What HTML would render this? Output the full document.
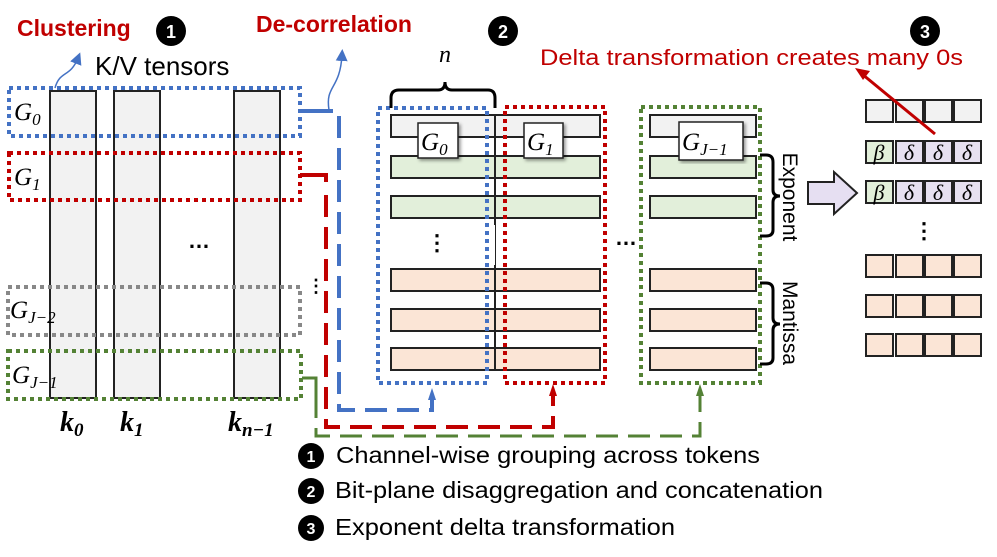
<!DOCTYPE html>
<html><head><meta charset="utf-8"><style>
html,body{margin:0;padding:0;background:#fff;}
svg{display:block;font-family:"Liberation Sans",sans-serif;}
.it{font-family:"Liberation Serif",serif;font-style:italic;}
</style></head><body>
<svg width="997" height="557" viewBox="0 0 997 557" xmlns="http://www.w3.org/2000/svg">
<defs>
<marker id="ab" markerWidth="8" markerHeight="8" refX="4" refY="4" orient="auto"><path d="M0,0 L8,4 L0,8 z" fill="#4472c4"/></marker>
<filter id="sh"><feDropShadow dx="2" dy="2" stdDeviation="1.5" flood-opacity="0.4"/></filter>
</defs>

<text x="17" y="36" font-size="23" font-weight="bold" fill="#c00000">Clustering</text>
<circle cx="171" cy="31" r="15" fill="#000"/><text x="171" y="38" font-size="18" font-weight="bold" fill="#fff" text-anchor="middle">1</text>
<text x="256" y="32" font-size="23" font-weight="bold" fill="#c00000">De-correlation</text>
<circle cx="503" cy="31" r="15" fill="#000"/><text x="503" y="38" font-size="18" font-weight="bold" fill="#fff" text-anchor="middle">2</text>
<circle cx="925" cy="31" r="15" fill="#000"/><text x="925" y="38" font-size="18" font-weight="bold" fill="#fff" text-anchor="middle">3</text>
<text x="95" y="75" font-size="26">K/V tensors</text>
<text x="540" y="65" font-size="22" fill="#c00000" textLength="423" lengthAdjust="spacingAndGlyphs">Delta transformation creates many 0s</text>

<g fill="#f2f2f2" stroke="#222" stroke-width="2">
<rect x="50" y="91" width="46" height="307"/>
<rect x="114" y="91" width="46" height="307"/>
<rect x="234" y="91" width="46" height="307"/>
</g>
<text x="188" y="248" font-size="22" font-weight="bold">…</text>

<g fill="none" stroke-width="4" stroke-dasharray="4 4">
<rect x="9" y="88" width="291" height="48" stroke="#4472c4"/>
<rect x="9" y="153" width="291" height="47" stroke="#c00000"/>
<rect x="8" y="287" width="292" height="48" stroke="#888"/>
<rect x="8" y="351" width="293" height="48" stroke="#548235"/>
</g>
<g class="it" font-size="25">
<text x="14" y="120">G<tspan font-size="17" dy="5">0</tspan></text>
<text x="14" y="185">G<tspan font-size="17" dy="5">1</tspan></text>
<text x="10" y="318">G<tspan font-size="17" dy="5">J−2</tspan></text>
<text x="12" y="383">G<tspan font-size="17" dy="5">J−1</tspan></text>
</g>
<g font-family="Liberation Serif,serif" font-style="italic" font-weight="bold" font-size="28">
<text x="60" y="431">k<tspan font-size="19" dy="5">0</tspan></text>
<text x="120" y="431">k<tspan font-size="19" dy="5">1</tspan></text>
<text x="228" y="431">k<tspan font-size="19" dy="5">n−1</tspan></text>
</g>

<path d="M55,88 C60,70 70,78 78,58" fill="none" stroke="#4472c4" stroke-width="1.5" marker-end="url(#ab)"/>
<path d="M329,110 C325,85 340,90 342,55" fill="none" stroke="#4472c4" stroke-width="1.5" marker-end="url(#ab)"/>

<path d="M300,111 H333" stroke="#4472c4" stroke-width="4" fill="none"/>
<path d="M339,116 V410 H432 V395" stroke="#4472c4" stroke-width="4" fill="none" stroke-dasharray="22 10"/>
<path d="M428,400 L436,400 L432,388 z" fill="#4472c4"/>
<path d="M300,175 H326 V182" stroke="#c00000" stroke-width="4" fill="none"/>
<path d="M326,195 V427 H553 V393" stroke="#c00000" stroke-width="4" fill="none" stroke-dasharray="22 10"/>
<path d="M549,396 L557,396 L553,384 z" fill="#c00000"/>
<path d="M302,378 H316 V436 H700 V395" stroke="#548235" stroke-width="3" fill="none" stroke-dasharray="22 10"/>
<path d="M302,378 H316 V400" stroke="#548235" stroke-width="3" fill="none"/>
<path d="M696,396 L704,396 L700,384 z" fill="#548235"/>
<text x="316" y="292" font-size="18" font-weight="bold" text-anchor="middle">⋮</text>

<g stroke="#222" stroke-width="2">
<rect x="391" y="115" width="209" height="22" fill="#f2f2f2"/>
<rect x="391" y="156" width="209" height="22" fill="#e2efda"/>
<rect x="391" y="196" width="209" height="22" fill="#e2efda"/>
<rect x="391" y="269" width="209" height="22" fill="#fbe5d6"/>
<rect x="391" y="309" width="209" height="22" fill="#fbe5d6"/>
<rect x="391" y="348" width="209" height="22" fill="#fbe5d6"/>
<line x1="495" y1="115" x2="495" y2="370"/>
<rect x="650" y="115" width="106" height="22" fill="#f2f2f2"/>
<rect x="650" y="156" width="106" height="22" fill="#e2efda"/>
<rect x="650" y="196" width="106" height="22" fill="#e2efda"/>
<rect x="650" y="269" width="106" height="22" fill="#fbe5d6"/>
<rect x="650" y="309" width="106" height="22" fill="#fbe5d6"/>
<rect x="650" y="348" width="106" height="22" fill="#fbe5d6"/>
</g>
<rect x="391" y="225" width="104" height="40" fill="#fff"/>
<text x="437" y="250" font-size="22" font-weight="bold" text-anchor="middle">⋮</text>
<text x="615" y="245" font-size="22" font-weight="bold">…</text>
<g fill="none" stroke-width="4" stroke-dasharray="4 4">
<rect x="378" y="108" width="109" height="275" stroke="#4472c4"/>
<rect x="505" y="107" width="100" height="276" stroke="#c00000"/>
<rect x="641" y="107" width="119" height="276" stroke="#548235"/>
</g>
<path d="M391,108 V98 Q391,90 399,90 H438 Q445,90 445,82 Q445,90 452,90 H488 Q495,90 495,98 V108" fill="none" stroke="#000" stroke-width="3"/>
<text x="445" y="62" class="it" font-size="24" text-anchor="middle">n</text>
<g filter="url(#sh)" fill="#fff" stroke="#222" stroke-width="1.5">
<rect x="418" y="123" width="40" height="35"/>
<rect x="524" y="123" width="39" height="35"/>
<rect x="679" y="122" width="64" height="38"/>
</g>
<g class="it" font-size="25">
<text x="421" y="150">G<tspan font-size="17" dy="5">0</tspan></text>
<text x="527" y="150">G<tspan font-size="17" dy="5">1</tspan></text>
<text x="682" y="150">G<tspan font-size="17" dy="5">J−1</tspan></text>
</g>

<path d="M760,155 H766 Q773,155 773,162 V190 Q773,196 780,196 Q773,196 773,202 V230 Q773,236 766,236 H760" fill="none" stroke="#000" stroke-width="3"/>
<path d="M760,283 H766 Q773,283 773,290 V318 Q773,324 780,324 Q773,324 773,330 V358 Q773,364 766,364 H760" fill="none" stroke="#000" stroke-width="3"/>
<text transform="translate(783,197) rotate(90)" font-size="21" text-anchor="middle">Exponent</text>
<text transform="translate(783,323) rotate(90)" font-size="21" text-anchor="middle">Mantissa</text>
<path d="M808,182 H834 V172 L857,193 L834,214 V204 H808 z" fill="#e6dff2" stroke="#222" stroke-width="2"/>

<g stroke="#222" stroke-width="2">
<g fill="#f2f2f2"><rect x="866" y="100" width="27" height="22"/><rect x="896" y="100" width="27" height="22"/><rect x="925" y="100" width="27" height="22"/><rect x="954" y="100" width="27" height="22"/></g>
<g><rect x="866" y="141" width="27" height="22" fill="#e2efda"/><rect x="896" y="141" width="27" height="22" fill="#e6e0f0"/><rect x="925" y="141" width="27" height="22" fill="#e6e0f0"/><rect x="954" y="141" width="27" height="22" fill="#e6e0f0"/></g>
<g><rect x="866" y="181" width="27" height="22" fill="#e2efda"/><rect x="896" y="181" width="27" height="22" fill="#e6e0f0"/><rect x="925" y="181" width="27" height="22" fill="#e6e0f0"/><rect x="954" y="181" width="27" height="22" fill="#e6e0f0"/></g>
<g fill="#fbe5d6">
<rect x="866" y="255" width="27" height="22"/><rect x="896" y="255" width="27" height="22"/><rect x="925" y="255" width="27" height="22"/><rect x="954" y="255" width="27" height="22"/>
<rect x="866" y="295" width="27" height="22"/><rect x="896" y="295" width="27" height="22"/><rect x="925" y="295" width="27" height="22"/><rect x="954" y="295" width="27" height="22"/>
<rect x="866" y="334" width="27" height="22"/><rect x="896" y="334" width="27" height="22"/><rect x="925" y="334" width="27" height="22"/><rect x="954" y="334" width="27" height="22"/>
</g>
</g>
<g class="it" font-size="22" text-anchor="middle">
<text x="879" y="160">β</text><text x="909" y="160">δ</text><text x="938" y="160">δ</text><text x="967" y="160">δ</text>
<text x="879" y="200">β</text><text x="909" y="200">δ</text><text x="938" y="200">δ</text><text x="967" y="200">δ</text>
</g>
<text x="924" y="238" font-size="22" font-weight="bold" text-anchor="middle">⋮</text>
<line x1="935" y1="134" x2="862" y2="74" stroke="#c00000" stroke-width="3"/>
<path d="M855,68 L870,71 L863,80 z" fill="#c00000"/>

<g font-size="23">
<circle cx="311" cy="456" r="13" fill="#000"/><text x="311" y="462" font-size="16" font-weight="bold" fill="#fff" text-anchor="middle">1</text>
<text x="336" y="463" textLength="424" lengthAdjust="spacingAndGlyphs">Channel-wise grouping across tokens</text>
<circle cx="311" cy="491" r="13" fill="#000"/><text x="311" y="497" font-size="16" font-weight="bold" fill="#fff" text-anchor="middle">2</text>
<text x="335" y="498" textLength="488" lengthAdjust="spacingAndGlyphs">Bit-plane disaggregation and concatenation</text>
<circle cx="311" cy="528" r="13" fill="#000"/><text x="311" y="534" font-size="16" font-weight="bold" fill="#fff" text-anchor="middle">3</text>
<text x="335" y="535" textLength="340" lengthAdjust="spacingAndGlyphs">Exponent delta transformation</text>
</g>
</svg>
</body></html>
